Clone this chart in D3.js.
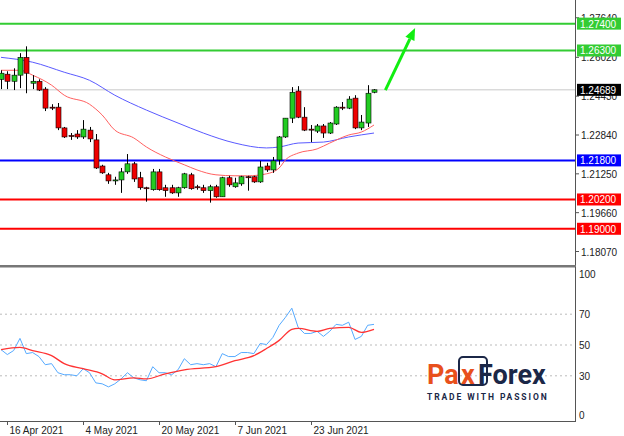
<!DOCTYPE html>
<html><head><meta charset="utf-8">
<script src="https://cdn.jsdelivr.net/npm/d3@7"></script>
<style>body{margin:0;background:#fff}svg{display:block;font-family:"Liberation Sans",Arial,sans-serif}</style>
</head><body><svg id="c" width="624" height="436"></svg>
<script>
// candles: [open, high, low, close]
const candles = [
[1.2512,1.2549,1.2472,1.2537],[1.2533,1.2545,1.2472,1.2504],[1.2504,1.2557,1.2468,1.2529],[1.2529,1.2619,1.2476,1.2602],
[1.2602,1.2647,1.2455,1.2537],[1.2496,1.2529,1.2472,1.2504],[1.2504,1.2512,1.2464,1.2468],[1.2472,1.2480,1.2382,1.2394],
[1.2398,1.2410,1.2386,1.2396],[1.2398,1.2415,1.2304,1.2313],[1.2313,1.2317,1.2272,1.2276],[1.2282,1.2292,1.2264,1.2280],
[1.2288,1.2304,1.2268,1.2276],[1.2276,1.2345,1.2268,1.2308],[1.2304,1.2317,1.2255,1.2268],[1.2264,1.2288,1.2145,1.2149],
[1.2157,1.2162,1.2125,1.2129],[1.2121,1.2129,1.2084,1.2096],[1.2098,1.2113,1.2080,1.2100],[1.2100,1.2149,1.2047,1.2133],
[1.2133,1.2206,1.2125,1.2166],[1.2166,1.2174,1.2092,1.2104],[1.2109,1.2133,1.2060,1.2068],[1.2068,1.2072,1.2011,1.2066],
[1.2060,1.2145,1.2056,1.2133],[1.2133,1.2145,1.2056,1.2060],[1.2068,1.2080,1.2031,1.2056],[1.2068,1.2080,1.2043,1.2047],
[1.2047,1.2072,1.2031,1.2068],[1.2068,1.2129,1.2064,1.2125],[1.2121,1.2129,1.2060,1.2064],[1.2072,1.2080,1.2060,1.2070],
[1.2068,1.2080,1.2047,1.2056],[1.2056,1.2080,1.2007,1.2072],[1.2072,1.2080,1.2027,1.2031],[1.2031,1.2113,1.2031,1.2109],
[1.2109,1.2117,1.2072,1.2080],[1.2072,1.2109,1.2068,1.2088],[1.2084,1.2117,1.2076,1.2113],[1.2113,1.2117,1.2056,1.2111],
[1.2113,1.2117,1.2088,1.2092],[1.2092,1.2178,1.2088,1.2153],[1.2157,1.2170,1.2133,1.2141],[1.2141,1.2194,1.2129,1.2178],
[1.2182,1.2280,1.2162,1.2276],[1.2276,1.2353,1.2272,1.2353],[1.2353,1.2480,1.2333,1.2459],[1.2464,1.2484,1.2353,1.2357],
[1.2357,1.2398,1.2300,1.2304],[1.2308,1.2325,1.2255,1.2306],[1.2300,1.2329,1.2292,1.2321],[1.2321,1.2329,1.2272,1.2292],
[1.2292,1.2337,1.2288,1.2333],[1.2329,1.2402,1.2325,1.2398],[1.2398,1.2419,1.2386,1.2396],[1.2394,1.2443,1.2390,1.2431],
[1.2435,1.2447,1.2308,1.2313],[1.2313,1.2366,1.2304,1.2337],[1.2333,1.2488,1.2317,1.2455],[1.2459,1.2472,1.2455,1.2469]];
const slowMA = [[0,1.2602],[5,1.2582],[10,1.2541],[14,1.2508],[18,1.2447],[23,1.2386],[28,1.2333],[32,1.2292],[37,1.2251],[42,1.2231],[44,1.2235],[47,1.2251],[51,1.2255],[55,1.2276],[59,1.2292]];
const fastMA = [[0,1.2549],[3,1.2549],[5,1.2529],[8,1.2488],[10,1.2447],[14,1.2410],[16,1.2366],[18,1.2304],[21,1.2272],[23,1.2235],[26,1.2194],[29,1.2162],[31,1.2141],[34,1.2121],[37,1.2117],[39,1.2117],[42,1.2125],[44,1.2149],[45,1.2182],[47,1.2210],[50,1.2227],[52,1.2251],[55,1.2284],[57,1.2296],[59,1.2325]];
const osc = [47.0,43.8,46.4,54.3,44.4,45.1,42.5,37.2,37.9,32.0,30.7,30.7,30.0,34.6,32.0,25.4,24.8,22.8,24.8,28.0,32.0,28.7,27.4,26.8,35.9,32.0,32.0,30.7,33.9,41.1,37.2,37.9,37.2,37.9,35.9,44.4,42.5,42.5,45.1,45.1,44.4,51.0,50.3,54.9,62.8,68.0,73.9,61.5,57.5,57.5,58.9,55.6,58.9,63.4,62.8,64.8,53.6,55.6,62.8,63.4];
const oscMA = [[0,47.0],[3,48.4],[5,46.4],[8,43.1],[10,37.9],[13,34.6],[16,31.3],[18,27.4],[21,28.7],[23,28.0],[26,31.3],[29,33.9],[34,35.9],[37,39.8],[40,43.1],[42,47.7],[44,53.0],[46,60.2],[47,60.8],[50,58.9],[52,60.8],[55,61.5],[57,58.2],[59,60.2]];
const priceTicks = [1.27640,1.26020,1.24430,1.22840,1.21250,1.19660,1.18070];
const levels = [{v:1.2740,c:"#33cc33"},{v:1.2630,c:"#33cc33"},{v:1.2180,c:"#0000ff"},{v:1.2020,c:"#ff0000"},{v:1.1900,c:"#ff0000"}];
const lastPrice = 1.24689;
const oscTicks = [100,70,50,30,0];
const oscGrid = [70,50,30];
const dateLabels = [{i:1,t:"16 Apr 2021"},{i:13,t:"4 May 2021"},{i:25,t:"20 May 2021"},{i:37,t:"7 Jun 2021"},{i:49,t:"23 Jun 2021"}];
const arrow = [[60.8,1.2468],[65.5,1.2722]];

const svg = d3.select("#c");
const W = 575;
const x = d3.scaleLinear().domain([0,59]).range([1,374]);
const y = d3.scaleLinear().domain([1.18070,1.22840]).range([251.5,135]);
const yo = d3.scaleLinear().domain([0,100]).range([422,268]);

svg.append("line").attr("x1",0).attr("x2",W).attr("y1",y(lastPrice)).attr("y2",y(lastPrice)).attr("stroke","#c8c8c8").attr("stroke-width",1);
levels.forEach(l=>svg.append("line").attr("x1",0).attr("x2",W).attr("y1",y(l.v)).attr("y2",y(l.v)).attr("stroke",l.c).attr("stroke-width",2));

const line = d3.line().x(d=>x(d[0])).y(d=>y(d[1])).curve(d3.curveMonotoneX);
svg.append("path").attr("d",line(slowMA)).attr("fill","none").attr("stroke","#5a5aff").attr("stroke-width",1);
svg.append("path").attr("d",line(fastMA)).attr("fill","none").attr("stroke","#ff6060").attr("stroke-width",1);

const g = svg.append("g");
candles.forEach((c,i)=>{
  const [o,h,l,cl]=c, cx=Math.round(x(i))+0.5;
  g.append("line").attr("x1",cx).attr("x2",cx).attr("y1",y(h)).attr("y2",y(l)).attr("stroke","#000");
  const top=y(Math.max(o,cl)), bot=y(Math.min(o,cl));
  g.append("rect").attr("x",cx-2.5).attr("y",top).attr("width",5).attr("height",Math.max(1,bot-top))
   .attr("fill",cl>=o?"#22cc22":"#ee0000").attr("stroke","#000").attr("stroke-width",0.6);
});

const [a0,a1]=arrow.map(p=>[x(p[0]),y(p[1])]);
const ang=Math.atan2(a1[1]-a0[1],a1[0]-a0[0]);
const back=[a1[0]-12*Math.cos(ang),a1[1]-12*Math.sin(ang)];
svg.append("line").attr("x1",a0[0]).attr("y1",a0[1]).attr("x2",back[0]).attr("y2",back[1]).attr("stroke","#11ee11").attr("stroke-width",3);
const px=-Math.sin(ang)*5, py=Math.cos(ang)*5;
svg.append("path").attr("d",`M${a1[0]},${a1[1]}L${back[0]+px},${back[1]+py}L${back[0]-px},${back[1]-py}Z`).attr("fill","#11ee11");

svg.append("line").attr("x1",W+0.5).attr("x2",W+0.5).attr("y1",0).attr("y2",265).attr("stroke","#555");
priceTicks.forEach(t=>{
  svg.append("line").attr("x1",W).attr("x2",W+4).attr("y1",y(t)).attr("y2",y(t)).attr("stroke","#555");
  svg.append("text").attr("x",581).attr("y",y(t)+4).attr("font-size",10).attr("fill","#222").text(t.toFixed(5));
});
function tag(v,bg,fg){
  svg.append("rect").attr("x",577).attr("y",y(v)-6).attr("width",44).attr("height",12).attr("fill",bg);
  svg.append("text").attr("x",580).attr("y",y(v)+4).attr("font-size",10).attr("fill",fg).text(v.toFixed(5));
}
levels.forEach(l=>tag(l.v,l.c,"#fff"));
tag(lastPrice,"#000","#fff");

svg.append("rect").attr("x",0).attr("y",265).attr("width",W+1).attr("height",2.5).attr("fill","#777");

oscGrid.forEach(v=>svg.append("line").attr("x1",0).attr("x2",W).attr("y1",yo(v)).attr("y2",yo(v)).attr("stroke","#bbb").attr("stroke-dasharray","2,3"));
svg.append("line").attr("x1",W+0.5).attr("x2",W+0.5).attr("y1",267).attr("y2",422).attr("stroke","#555");
svg.append("line").attr("x1",0).attr("x2",W+1).attr("y1",421.5).attr("y2",421.5).attr("stroke","#555");
oscTicks.forEach(t=>{
  const yy=Math.min(Math.max(yo(t),274),415);
  svg.append("text").attr("x",579).attr("y",yy+4).attr("font-size",10).attr("fill","#222").text(t);
});
svg.append("path").attr("d",d3.line().x((d,i)=>x(i)).y(d=>yo(d))(osc)).attr("fill","none").attr("stroke","#55aaff").attr("stroke-width",1);
svg.append("path").attr("d",d3.line().x(d=>x(d[0])).y(d=>yo(d[1])).curve(d3.curveMonotoneX)(oscMA)).attr("fill","none").attr("stroke","#ff3333").attr("stroke-width",1.3);

dateLabels.forEach(d=>{
  const xx=Math.round(x(d.i))+0.5;
  svg.append("line").attr("x1",xx).attr("x2",xx).attr("y1",421).attr("y2",425).attr("stroke","#555");
  svg.append("text").attr("x",xx+2).attr("y",434).attr("font-size",10).attr("fill","#222").text(d.t);
});

const lg=svg.append("g");
const F="Roboto,'Liberation Sans',sans-serif";
lg.append("text").attr("x",427).attr("y",384).attr("font-size",27).attr("font-weight","bold").attr("font-family",F).attr("fill","#e8501c").text("Pa");
lg.append("rect").attr("x",459).attr("y",357).attr("width",28).attr("height",28).attr("rx",4).attr("fill","none").attr("stroke","#1b2747").attr("stroke-width",2);
lg.append("text").attr("x",461).attr("y",384).attr("font-size",27).attr("font-weight","bold").attr("font-family",F).attr("fill","#e8501c").text("x");
lg.append("text").attr("x",478).attr("y",384).attr("font-size",27).attr("font-weight","bold").attr("font-family",F).attr("fill","#1b2747").text("Forex");
lg.append("text").attr("x",427).attr("y",400).attr("font-size",8.5).attr("font-weight","bold").attr("letter-spacing",1.9).attr("font-family",F).attr("fill","#1b2747").text("TRADE WITH PASSION");
</script></body></html>
